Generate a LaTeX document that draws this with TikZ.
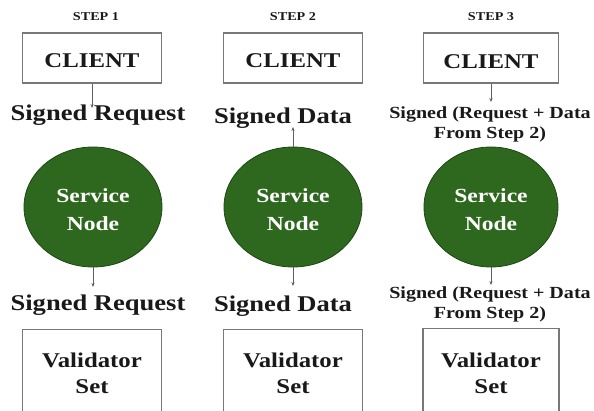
\documentclass[tikz,border=0pt]{standalone}
\usepackage{fontspec}
\setmainfont{Liberation Serif}[FakeStretch=1.18]
\usetikzlibrary{arrows.meta}
\definecolor{nodegreen}{RGB}{46,104,30}
\definecolor{nodeedge}{RGB}{30,70,20}
\definecolor{boxedge}{RGB}{120,120,120}
\definecolor{ink}{RGB}{25,25,25}
\tikzset{
  box/.style={draw=boxedge, line width=1.4pt, minimum width=139pt, minimum height=50pt, inner sep=0pt},
  vbox/.style={draw=boxedge, line width=1.4pt, minimum width=139pt, minimum height=90pt, inner sep=0pt, anchor=north},
  svc/.style={ellipse, draw=nodeedge, line width=0.8pt, fill=nodegreen, minimum width=138pt, minimum height=120pt, inner sep=0pt},
  lbl/.style={anchor=base, inner sep=0pt, text=ink, font=\bfseries\fontsize{22.5}{24}\selectfont},
  lbls/.style={anchor=base, inner sep=0pt, text=ink, font=\bfseries\fontsize{17}{19}\selectfont},
  steplbl/.style={anchor=base, inner sep=0pt, text=ink, font=\bfseries\fontsize{12}{13}\selectfont},
  boxtxt/.style={anchor=base, inner sep=0pt, text=ink, font=\bfseries\fontsize{21}{23}\selectfont},
  svctxt/.style={anchor=base, inner sep=0pt, text=white, font=\bfseries\fontsize{20}{22}\selectfont},
  arr/.style={draw=boxedge!80!black, line width=0.6pt, -{Stealth[length=4pt,width=3.2pt]}}
}
\usetikzlibrary{shapes.geometric}
\begin{document}
\begin{tikzpicture}[x=1pt,y=-1pt]
\useasboundingbox (0,0) rectangle (594,410);
\clip (0,0) rectangle (594,410);
% step labels
\node[steplbl] (s1) at (96,20) {STEP 1};
\node[steplbl] (s2) at (293,20) {STEP 2};
\node[steplbl] (s3) at (491,20) {STEP 3};
% client boxes
\node[box] (c1) at (92,58) {};
\node[box] (c2) at (293,58) {};
\node[box, minimum width=135pt] (c3) at (491,58) {};
\node[boxtxt] (ct1) at (92,67) {CLIENT};
\node[boxtxt] (ct2) at (293,67) {CLIENT};
\node[boxtxt] (ct3) at (491,68) {CLIENT};
% service nodes
\node[svc] (n1) at (93,207) {};
\node[svc] (n2) at (293,207) {};
\node[svc, minimum width=134pt] (n3) at (491,207) {};
\node[svctxt] (n1a) at (93,202) {Service};
\node[svctxt] (n1b) at (93,230) {Node};
\node[svctxt] (n2a) at (293,202) {Service};
\node[svctxt] (n2b) at (293,230) {Node};
\node[svctxt] (n3a) at (491,202) {Service};
\node[svctxt] (n3b) at (491,230) {Node};
% validator boxes
\node[vbox] (v1) at (92,329) {};
\node[vbox] (v2) at (293,329) {};
\node[vbox, minimum width=136pt] (v3) at (491,328) {};
\node[boxtxt] (v1a) at (92,367) {Validator};
\node[boxtxt] (v1b) at (92,393) {Set};
\node[boxtxt] (v2a) at (293,367) {Validator};
\node[boxtxt] (v2b) at (293,393) {Set};
\node[boxtxt] (v3a) at (491,367) {Validator};
\node[boxtxt] (v3b) at (491,393) {Set};
% labels
\node[lbl] (l1u) at (98,120) {Signed Request};
\node[lbl] (l1d) at (98,310) {Signed Request};
\node[lbl] (l2u) at (283,123) {Signed Data};
\node[lbl] (l2d) at (283,311) {Signed Data};
\node[lbls] (l3u1) at (490,118) {Signed (Request + Data};
\node[lbls] (l3u2) at (490,138) {From Step 2)};
\node[lbls] (l3d1) at (490,298) {Signed (Request + Data};
\node[lbls] (l3d2) at (490,318) {From Step 2)};
% arrow ends
\coordinate (a1u) at (92,108);
\coordinate (a1d) at (93,287);
\coordinate (a2u) at (293,127);
\coordinate (a2d) at (293,286);
\coordinate (a3u) at (491,102);
\coordinate (a3d) at (491,285);
\draw[arr] (c1.south) -- (a1u);
\draw[arr] (n1.south) -- (a1d);
\draw[arr] (n2.north) -- (a2u);
\draw[arr] (n2.south) -- (a2d);
\draw[arr] (c3.south) -- (a3u);
\draw[arr] (n3.south) -- (a3d);
\end{tikzpicture}
\end{document}
